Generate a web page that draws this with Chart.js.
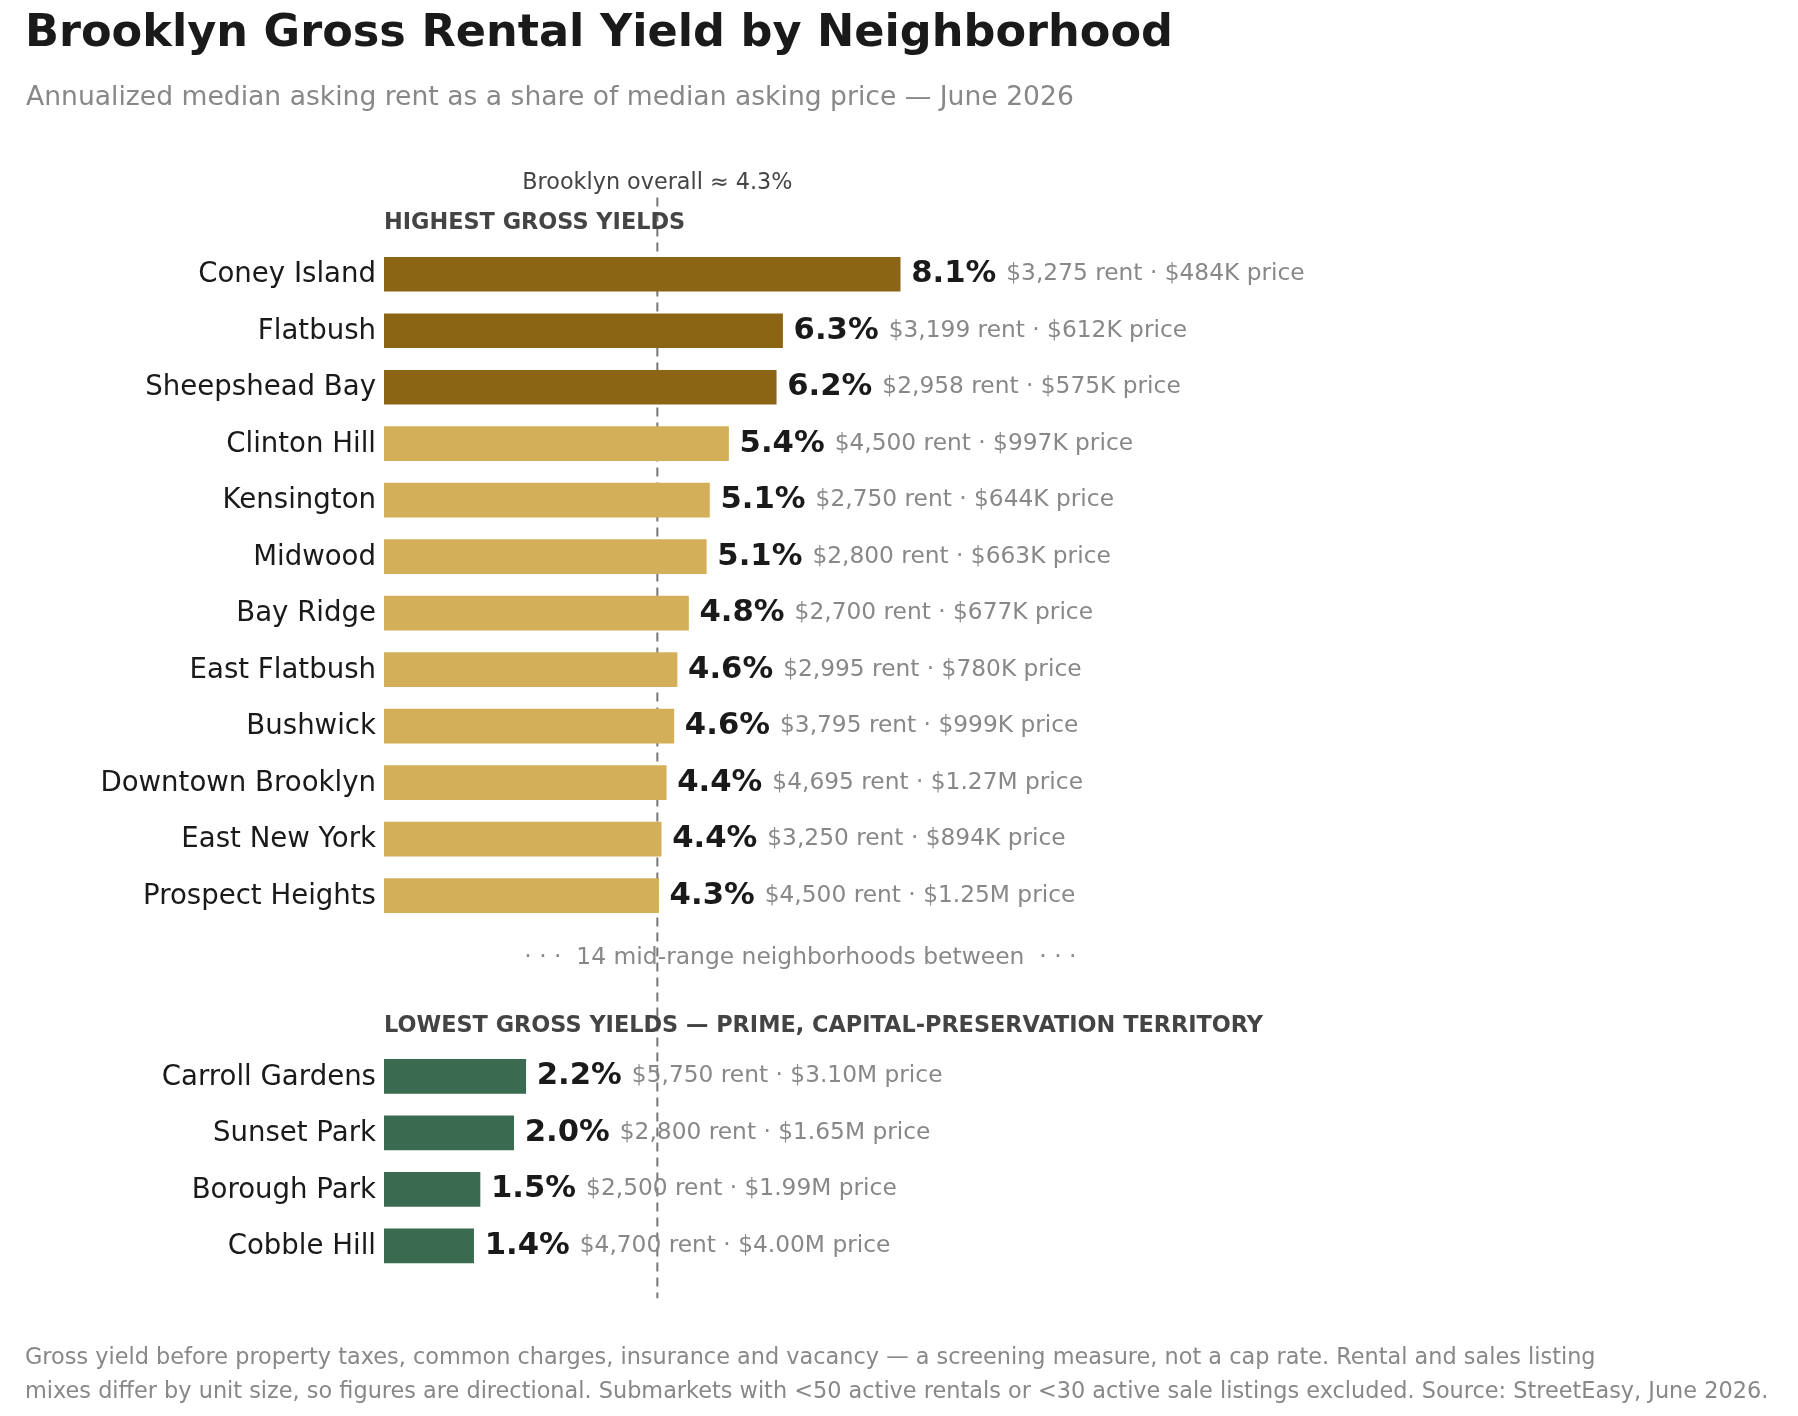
<!DOCTYPE html>
<html lang="en">
<head>
    <meta charset="UTF-8">
    <title>Brooklyn Gross Rental Yield by Neighborhood</title>
    <script src="https://cdn.jsdelivr.net/npm/chart.js"></script>
    <style>
        body {
            margin: 0;
            background: #fff;
            font-family: 'DejaVu Sans', sans-serif;
            width: 1798px;
            height: 1416px;
            position: relative;
            overflow: hidden;
        }
        .title {
            position: absolute;
            left: 25px;
            top: 9px;
            font-size: 44.6px;
            line-height: 45px;
            font-weight: bold;
            color: #1a1a1a;
        }
        .subtitle {
            position: absolute;
            left: 26px;
            top: 82px;
            font-size: 26.6px;
            line-height: 27px;
            color: #888;
        }
        .note {
            position: absolute;
            left: 25px;
            top: 1340px;
            font-size: 22.4px;
            line-height: 33.5px;
            color: #888;
        }
        #wrap {
            position: absolute;
            left: 0;
            top: 0;
            width: 1798px;
            height: 1416px;
        }
    </style>
</head>
<body>
    <div id="wrap"><canvas id="chart"></canvas></div>
    <div class="title">Brooklyn Gross Rental Yield by Neighborhood</div>
    <div class="subtitle">Annualized median asking rent as a share of median asking price — June 2026</div>
    <div class="note">Gross yield before property taxes, common charges, insurance and vacancy — a screening measure, not a cap rate. Rental and sales listing<br>mixes differ by unit size, so figures are directional. Submarkets with &lt;50 active rentals or &lt;30 active sale listings excluded. Source: StreetEasy, June 2026.</div>

    <script>
        // highest-yield group (top of chart)
        const topNames = ['Coney Island', 'Flatbush', 'Sheepshead Bay', 'Clinton Hill', 'Kensington', 'Midwood',
            'Bay Ridge', 'East Flatbush', 'Bushwick', 'Downtown Brooklyn', 'East New York', 'Prospect Heights'];
        const topYields = [8.12, 6.27, 6.17, 5.42, 5.12, 5.07, 4.79, 4.61, 4.56, 4.44, 4.36, 4.32];
        const topRents = ['$3,275', '$3,199', '$2,958', '$4,500', '$2,750', '$2,800', '$2,700', '$2,995', '$3,795', '$4,695', '$3,250', '$4,500'];
        const topPrices = ['$484K', '$612K', '$575K', '$997K', '$644K', '$663K', '$677K', '$780K', '$999K', '$1.27M', '$894K', '$1.25M'];

        // lowest-yield group (bottom of chart)
        const lowNames = ['Carroll Gardens', 'Sunset Park', 'Borough Park', 'Cobble Hill'];
        const lowYields = [2.23, 2.04, 1.51, 1.41];
        const lowRents = ['$5,750', '$2,800', '$2,500', '$4,700'];
        const lowPrices = ['$3.10M', '$1.65M', '$1.99M', '$4.00M'];

        const boroughOverall = 4.3;
        const midCount = 14;

        const DARK_GOLD = '#8B6514';
        const LIGHT_GOLD = '#D4AF5A';
        const GREEN = '#3A6A50';

        // row positions: top group on 0..11, gap, then low group
        const GAP = 2.2;
        const rows = [];
        topNames.forEach((n, i) => rows.push({
            name: n, x: topYields[i], y: i, rent: topRents[i], price: topPrices[i],
            color: i < 3 ? DARK_GOLD : LIGHT_GOLD
        }));
        lowNames.forEach((n, i) => rows.push({
            name: n, x: lowYields[i], y: topNames.length + GAP + i, rent: lowRents[i], price: lowPrices[i],
            color: GREEN
        }));
        const lowStart = topNames.length + GAP;

        const FONT = "'DejaVu Sans', sans-serif";

        const labelsPlugin = {
            id: 'labels',
            beforeDatasetsDraw(chart) {
                const ctx = chart.ctx;
                const xs = chart.scales.x, ys = chart.scales.y;
                const xr = xs.getPixelForValue(boroughOverall);
                ctx.save();
                ctx.strokeStyle = '#777';
                ctx.lineWidth = 2;
                ctx.setLineDash([9, 6]);
                ctx.beginPath();
                ctx.moveTo(xr, ys.getPixelForValue(-1.36));
                ctx.lineTo(xr, ys.getPixelForValue(lowStart + 3.93));
                ctx.stroke();
                ctx.restore();
            },
            afterDatasetsDraw(chart) {
                const ctx = chart.ctx;
                const xs = chart.scales.x, ys = chart.scales.y;
                const left = chart.chartArea.left;
                ctx.save();
                ctx.textBaseline = 'middle';

                rows.forEach(r => {
                    const py = ys.getPixelForValue(r.y);
                    ctx.fillStyle = '#1a1a1a';
                    ctx.font = '27.6px ' + FONT;
                    ctx.textAlign = 'right';
                    ctx.fillText(r.name, left - 8, py + 1);

                    ctx.textAlign = 'left';
                    let px = xs.getPixelForValue(r.x) + 11;
                    const val = r.x.toFixed(1) + '%';
                    ctx.font = 'bold 30.7px ' + FONT;
                    ctx.fillText(val, px, py);
                    px += ctx.measureText(val).width + 10;
                    ctx.font = '23.3px ' + FONT;
                    ctx.fillStyle = '#888';
                    ctx.fillText(r.rent + ' rent · ' + r.price + ' price', px, py);
                });

                // reference line label
                ctx.textAlign = 'center';
                ctx.font = '22.3px ' + FONT;
                ctx.fillStyle = '#444';
                ctx.fillText('Brooklyn overall ≈ ' + boroughOverall + '%', xs.getPixelForValue(boroughOverall), ys.getPixelForValue(-1.61));

                // group headers
                ctx.textAlign = 'left';
                ctx.font = 'bold 22.4px ' + FONT;
                ctx.fillText('HIGHEST GROSS YIELDS', left, ys.getPixelForValue(-0.91));
                ctx.fillText('LOWEST GROSS YIELDS — PRIME, CAPITAL-PRESERVATION TERRITORY', left, ys.getPixelForValue(lowStart - 0.89));

                // gap note
                ctx.textAlign = 'center';
                ctx.font = '23.4px ' + FONT;
                ctx.fillStyle = '#888';
                ctx.fillText('· · ·  ' + midCount + ' mid-range neighborhoods between  · · ·',
                    xs.getPixelForValue(6.55), ys.getPixelForValue(topNames.length - 1 + 1.1));
                ctx.restore();
            }
        };

        Chart.defaults.font.family = FONT;

        new Chart(document.getElementById('chart'), {
            type: 'bar',
            data: {
                datasets: [{
                    data: rows.map(r => ({ x: r.x, y: r.y })),
                    backgroundColor: rows.map(r => r.color),
                    barThickness: 34,
                    borderWidth: 0
                }]
            },
            options: {
                indexAxis: 'y',
                responsive: true,
                maintainAspectRatio: false,
                animation: false,
                layout: { padding: { left: 384, right: 648, top: 189.5, bottom: 68.5 } },
                scales: {
                    x: { type: 'linear', min: 0, max: 12.05, offset: false, display: false, grid: { display: false } },
                    y: { type: 'linear', min: -1.5, max: 19, offset: false, reverse: true, display: false, grid: { display: false } }
                },
                plugins: {
                    legend: { display: false },
                    tooltip: { enabled: false }
                }
            },
            plugins: [labelsPlugin]
        });
    </script>
</body>
</html>
